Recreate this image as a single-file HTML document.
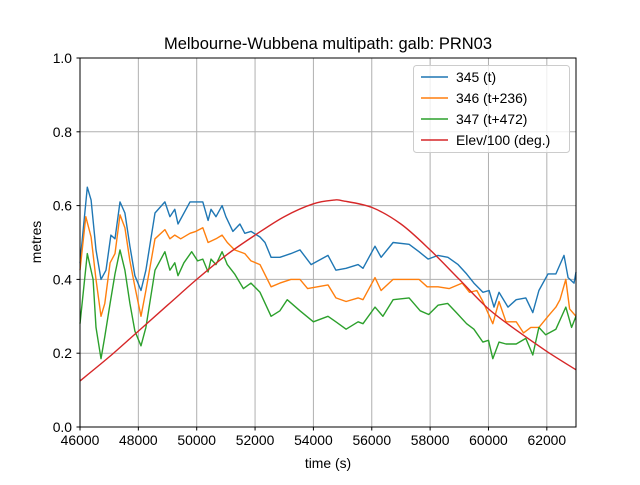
<!DOCTYPE html>
<html><head><meta charset="utf-8"><style>
body{margin:0;background:#fff}
svg{font-family:"Liberation Sans","DejaVu Sans",sans-serif}
</style></head><body>
<svg id="chart" width="640" height="480">
<rect width="640" height="480" fill="#fff"/>
<text x="328" y="49" text-anchor="middle" font-size="16.5">Melbourne-Wubbena multipath: galb: PRN03</text>
<g id="grid"></g><g id="series"></g>
<rect x="80" y="58" width="496" height="369" fill="none" stroke="#000" stroke-width="1"/>
<g id="axes"></g>
<text x="328" y="468" text-anchor="middle" font-size="13.9">time (s)</text>
<text transform="translate(41,242) rotate(-90)" text-anchor="middle" font-size="13.9">metres</text>
<g id="legend"></g>
</svg>
<script>
const xTicks=[46000,48000,50000,52000,54000,56000,58000,60000,62000];
const yTicks=[0,0.2,0.4,0.6,0.8,1.0];
const yTickLabels=["0.0","0.2","0.4","0.6","0.8","1.0"];
const seriesNames=["345 (t)","346 (t+236)","347 (t+472)","Elev/100 (deg.)"];
const t345=[46000,46250,46380,46550,46720,46890,47060,47200,47370,47540,47710,47880,48090,48260,48570,48910,49080,49250,49360,49770,50210,50390,50490,50660,50870,51000,51240,51480,51650,51860,52170,52340,52550,52850,53230,53540,53920,54500,54770,55120,55530,55700,56110,56320,56730,57280,57620,57930,58270,58610,58960,59250,59500,59810,60020,60190,60360,60670,60950,61280,61520,61730,62040,62310,62590,62730,62930,63000];
const v345=[0.444,0.65,0.615,0.48,0.40,0.425,0.52,0.51,0.61,0.58,0.49,0.41,0.37,0.425,0.58,0.61,0.57,0.59,0.55,0.61,0.61,0.56,0.59,0.57,0.60,0.57,0.53,0.55,0.525,0.53,0.515,0.50,0.46,0.46,0.47,0.48,0.44,0.465,0.425,0.43,0.44,0.43,0.49,0.46,0.50,0.495,0.475,0.455,0.465,0.46,0.44,0.415,0.39,0.365,0.37,0.325,0.365,0.325,0.345,0.35,0.31,0.37,0.415,0.415,0.465,0.405,0.39,0.42];
const t346=[46000,46200,46380,46550,46720,46850,47030,47200,47370,47540,47710,47880,48090,48260,48570,48910,49080,49250,49450,49770,49970,50210,50390,50660,50870,51050,51300,51650,51860,52170,52550,52850,53230,53540,53800,54500,54770,55120,55530,55700,56110,56320,56730,57280,57620,57900,58270,58650,59100,59350,59600,59810,60150,60360,60600,60950,61200,61450,61730,62040,62310,62450,62650,62780,63000];
const v346=[0.425,0.57,0.515,0.40,0.30,0.335,0.445,0.47,0.575,0.54,0.45,0.38,0.30,0.37,0.51,0.535,0.51,0.52,0.51,0.525,0.53,0.54,0.50,0.51,0.52,0.50,0.48,0.47,0.45,0.44,0.38,0.39,0.40,0.40,0.375,0.385,0.35,0.34,0.35,0.345,0.405,0.37,0.40,0.40,0.40,0.38,0.38,0.375,0.39,0.365,0.37,0.34,0.28,0.34,0.285,0.285,0.255,0.27,0.27,0.30,0.325,0.345,0.40,0.32,0.30];
const t347=[46000,46250,46450,46550,46720,46850,47030,47200,47370,47540,47710,47880,48090,48260,48570,48910,49080,49250,49360,49560,49830,50030,50210,50390,50490,50660,50870,51050,51300,51600,51860,52170,52550,52850,53100,53540,54000,54500,54770,55120,55530,55700,56110,56380,56730,57280,57660,57950,58270,58600,58900,59250,59500,59810,60000,60150,60360,60600,60950,61280,61520,61730,61960,62310,62650,62850,63000];
const v347=[0.28,0.47,0.40,0.27,0.185,0.245,0.335,0.415,0.48,0.425,0.335,0.26,0.22,0.27,0.425,0.475,0.425,0.445,0.41,0.445,0.475,0.45,0.455,0.42,0.455,0.44,0.475,0.44,0.415,0.375,0.39,0.365,0.30,0.315,0.345,0.315,0.285,0.30,0.285,0.265,0.285,0.28,0.325,0.30,0.345,0.35,0.315,0.305,0.33,0.335,0.31,0.28,0.265,0.23,0.235,0.185,0.23,0.225,0.225,0.24,0.195,0.27,0.25,0.265,0.325,0.27,0.30];
const tElev=[46000,47000,48000,49000,50000,51000,52000,53000,54000,54700,55000,56000,57000,58000,59000,60000,61000,62000,63000];
const vElev=[0.125,0.19,0.26,0.33,0.40,0.465,0.52,0.57,0.605,0.615,0.613,0.595,0.55,0.48,0.40,0.32,0.26,0.205,0.155];
const colors=["#1f77b4","#ff7f0e","#2ca02c","#d62728"];
const X=t=>80+(t-46000)/(63000-46000)*496;
const Y=v=>427-v*369;
const NS="http://www.w3.org/2000/svg";
function mk(tag,attrs,parent){const e=document.createElementNS(NS,tag);for(const k in attrs)e.setAttribute(k,attrs[k]);parent.appendChild(e);return e;}
const grid=document.getElementById('grid'),axes=document.getElementById('axes');
xTicks.forEach(t=>{
  const g=mk('line',{x1:X(t),x2:X(t),y1:58,y2:427,stroke:'#b0b0b0','stroke-width':1},grid);
  
  
  mk('line',{x1:X(t),x2:X(t),y1:427,y2:430.5,stroke:'#000'},axes);
  const l=mk('text',{x:X(t),y:445,'text-anchor':'middle','font-size':13.9},axes);
  l.textContent=t;
  
  
});
yTicks.forEach((v,i)=>{
  const g=mk('line',{x1:80,x2:576,y1:Y(v),y2:Y(v),stroke:'#b0b0b0','stroke-width':1},grid);
  
  
  mk('line',{x1:76.5,x2:80,y1:Y(v),y2:Y(v),stroke:'#000'},axes);
  const l=mk('text',{x:72,y:Y(v)+5,'text-anchor':'end','font-size':13.9},axes);
  l.textContent=yTickLabels[i];
  
  
});
function smoothPath(ts,vs){
  const p=ts.map((t,j)=>[X(t),Y(vs[j])]);
  let d='M'+p[0][0].toFixed(1)+','+p[0][1].toFixed(1);
  for(let i=0;i<p.length-1;i++){
    const p0=p[i-1]||p[i],p1=p[i],p2=p[i+1],p3=p[i+2]||p[i+1];
    const c1=[p1[0]+(p2[0]-p0[0])/6,p1[1]+(p2[1]-p0[1])/6];
    const c2=[p2[0]-(p3[0]-p1[0])/6,p2[1]-(p3[1]-p1[1])/6];
    d+=' C'+c1.map(v=>v.toFixed(1)).join(',')+' '+c2.map(v=>v.toFixed(1)).join(',')+' '+p2.map(v=>v.toFixed(1)).join(',');
  }
  return d;
}
const data=[[t345,v345],[t346,v346],[t347,v347]];
const sg=document.getElementById('series');
const names=['series-345','series-346','series-347'];
data.forEach((d,i)=>{
  const pts=d[0].map((t,j)=>X(t).toFixed(1)+','+Y(d[1][j]).toFixed(1)).join(' ');
  const p=mk('polyline',{points:pts,fill:'none',stroke:colors[i],'stroke-width':1.4,'stroke-linejoin':'round'},sg);
  
  
});
const ep=mk('path',{d:smoothPath(tElev,vElev),fill:'none',stroke:colors[3],'stroke-width':1.4},sg);


const lg=document.getElementById('legend');
mk('rect',{x:413.5,y:65.5,width:156,height:87,rx:3,fill:'#fff','fill-opacity':0.8,stroke:'#ccc'},lg);
seriesNames.forEach((n,i)=>{
  const y=77+i*21;
  const ln=mk('line',{x1:421,x2:448,y1:y,y2:y,stroke:colors[i],'stroke-width':1.4},lg);
  
  
  const t=mk('text',{x:456,y:y+5,'font-size':13.9},lg);
  t.textContent=n;
  
  
});
</script>
</body></html>
